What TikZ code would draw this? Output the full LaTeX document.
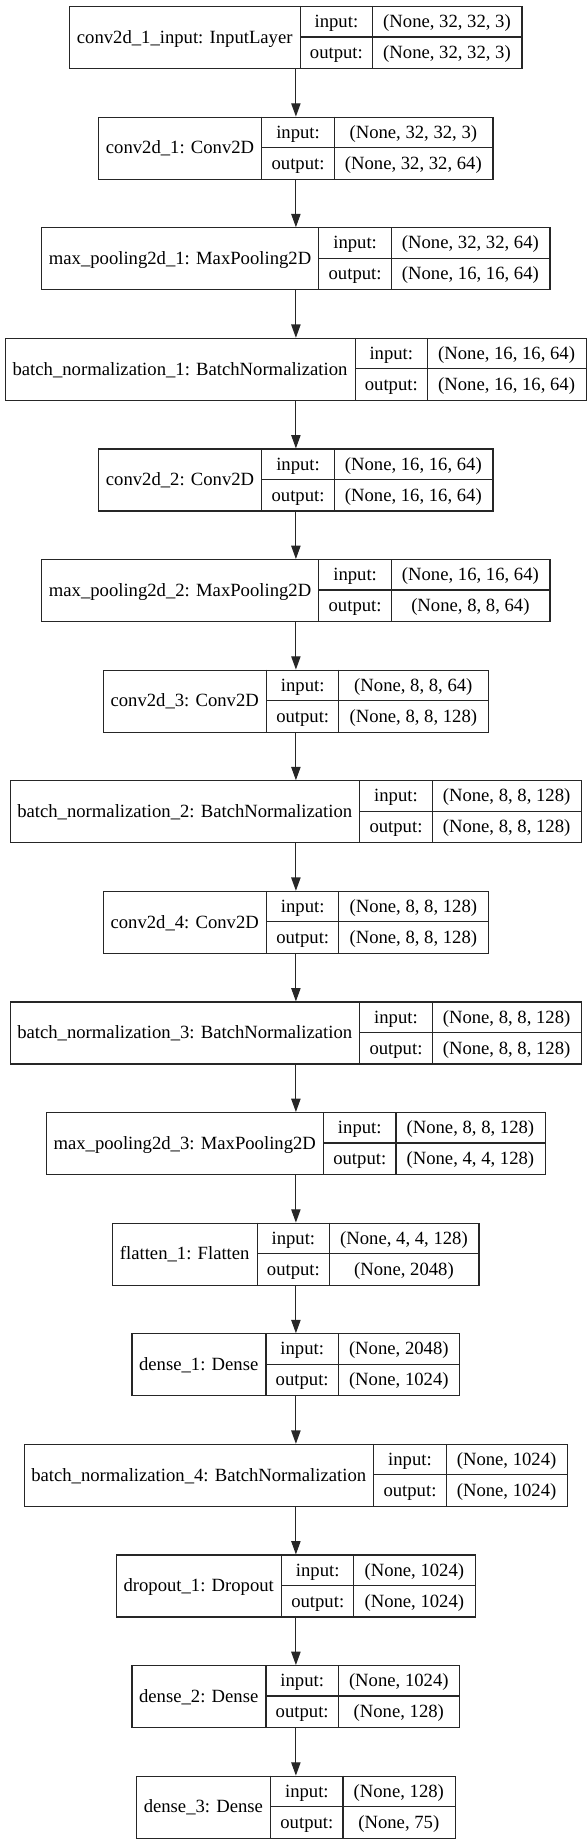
\documentclass[tikz,border=0pt]{standalone}
\usepackage{fontspec}
\setmainfont{Liberation Serif}
\usetikzlibrary{arrows.meta}
\newcommand\kfont{\fontsize{14pt}{16.8pt}\selectfont}
\newdimen\wA \newdimen\wB \newdimen\wC \newdimen\wT \newdimen\tmpd
\newdimen\xl \newdimen\xa \newdimen\xb \newdimen\xr
\newdimen\yt \newdimen\yb \newdimen\ym \newdimen\yra \newdimen\yrb
\newdimen\cA \newdimen\cB \newdimen\cC
\tikzset{
  kbox/.style={draw=black!85, line width=0.85pt, rectangle, inner sep=0pt, minimum height=46.5pt, anchor=north west},
  kline/.style={draw=black!85, line width=0.85pt},
  ktext/.style={font=\kfont, inner sep=0pt, text height=9.3pt, text depth=0pt, anchor=center},
  karrow/.style={draw=black!85, line width=0.85pt, -{Triangle[length=10pt,width=7pt]}}
}
% #1 name, #2 index, #3 label, #4 input shape, #5 output shape
\newcommand\klayer[5]{%
  \pgfinterruptpicture
    \normalfont\kfont
    \settowidth\tmpd{#3}\global\wA=\tmpd
    \settowidth\tmpd{output:}\global\wB=\tmpd
    \settowidth\tmpd{#4}\global\wC=\tmpd
    \settowidth\tmpd{#5}\ifdim\tmpd>\wC \global\wC=\tmpd\fi
  \endpgfinterruptpicture
  \advance\wA by 11.5pt
  \advance\wB by 14.6pt
  \advance\wC by 16pt
  \wT=\wA \advance\wT by \wB \advance\wT by \wC
  \xl=\dimexpr 221.5pt - \wT/2\relax
  \xa=\dimexpr\xl+\wA\relax
  \xb=\dimexpr\xa+\wB\relax
  \xr=\dimexpr\xl+\wT\relax
  \yt=\dimexpr -4.5pt - 82.95pt*#2\relax
  \yb=\dimexpr\yt-46.5pt\relax
  \ym=\dimexpr\yt-23.25pt\relax
  \yra=\dimexpr\yt-11.625pt\relax
  \yrb=\dimexpr\yt-34.875pt\relax
  \cA=\dimexpr\xl+\wA/2\relax
  \cB=\dimexpr\xa+\wB/2\relax
  \cC=\dimexpr\xb+\wC/2\relax
  \node[kbox, minimum width=\wT] (#1) at (\xl,\yt) {};
  \draw[kline] (\xa,\yt) -- (\xa,\yb);
  \draw[kline] (\xb,\yt) -- (\xb,\yb);
  \draw[kline] (\xa,\ym) -- (\xr,\ym);
  \node[ktext] (#1-lab) at (\cA,\ym) {#3};
  \node[ktext] (#1-ik) at (\cB,\yra) {input:};
  \node[ktext] (#1-ok) at (\cB,\yrb) {output:};
  \node[ktext] (#1-iv) at (\cC,\yra) {#4};
  \node[ktext] (#1-ov) at (\cC,\yrb) {#5};
}
\begin{document}
\begin{tikzpicture}
\useasboundingbox (0,0) rectangle (441pt,-1383pt);
\klayer{L0}{0}{conv2d\_1\_input: InputLayer}{(None, 32, 32, 3)}{(None, 32, 32, 3)}
\klayer{L1}{1}{conv2d\_1: Conv2D}{(None, 32, 32, 3)}{(None, 32, 32, 64)}
\klayer{L2}{2}{max\_pooling2d\_1: MaxPooling2D}{(None, 32, 32, 64)}{(None, 16, 16, 64)}
\klayer{L3}{3}{batch\_normalization\_1: BatchNormalization}{(None, 16, 16, 64)}{(None, 16, 16, 64)}
\klayer{L4}{4}{conv2d\_2: Conv2D}{(None, 16, 16, 64)}{(None, 16, 16, 64)}
\klayer{L5}{5}{max\_pooling2d\_2: MaxPooling2D}{(None, 16, 16, 64)}{(None, 8, 8, 64)}
\klayer{L6}{6}{conv2d\_3: Conv2D}{(None, 8, 8, 64)}{(None, 8, 8, 128)}
\klayer{L7}{7}{batch\_normalization\_2: BatchNormalization}{(None, 8, 8, 128)}{(None, 8, 8, 128)}
\klayer{L8}{8}{conv2d\_4: Conv2D}{(None, 8, 8, 128)}{(None, 8, 8, 128)}
\klayer{L9}{9}{batch\_normalization\_3: BatchNormalization}{(None, 8, 8, 128)}{(None, 8, 8, 128)}
\klayer{L10}{10}{max\_pooling2d\_3: MaxPooling2D}{(None, 8, 8, 128)}{(None, 4, 4, 128)}
\klayer{L11}{11}{flatten\_1: Flatten}{(None, 4, 4, 128)}{(None, 2048)}
\klayer{L12}{12}{dense\_1: Dense}{(None, 2048)}{(None, 1024)}
\klayer{L13}{13}{batch\_normalization\_4: BatchNormalization}{(None, 1024)}{(None, 1024)}
\klayer{L14}{14}{dropout\_1: Dropout}{(None, 1024)}{(None, 1024)}
\klayer{L15}{15}{dense\_2: Dense}{(None, 1024)}{(None, 128)}
\klayer{L16}{16}{dense\_3: Dense}{(None, 128)}{(None, 75)}
\foreach \a/\b in {0/1,1/2,2/3,3/4,4/5,5/6,6/7,7/8,8/9,9/10,10/11,11/12,12/13,13/14,14/15,15/16}
  \draw[karrow] (L\a.south) -- (L\b.north);
\end{tikzpicture}
\end{document}
